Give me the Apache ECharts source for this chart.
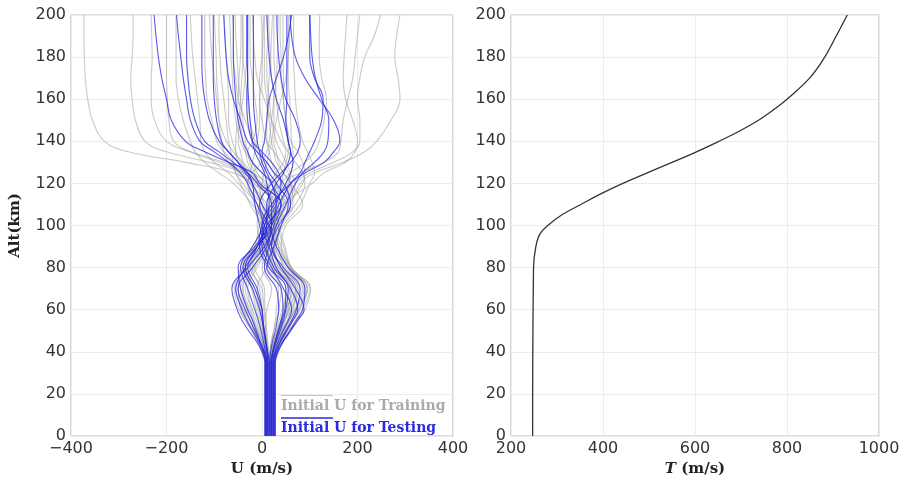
<!DOCTYPE html>
<html>
<head>
<meta charset="utf-8">
<script src="https://cdn.jsdelivr.net/npm/echarts@6/dist/echarts.min.js"></script>
<title></title>
<style>
  html, body { margin: 0; padding: 0; background: #fff; }
</style>
</head>
<body>
<div id="main" style="width: 903px;height:482px;"></div>
<script type="text/javascript">
// altitude levels (km) at which each U profile is sampled
var alts = [0, 35, 40, 45, 50, 55, 60, 70, 80, 90, 100, 110, 120, 125, 130, 135, 140, 150, 160, 170, 180, 190, 200];

// initial U profiles used for training (m/s)
var trainU = [
  [10, 10, 5, -5, -20, -35, -45, -50, -30, 5, 15, 30, -20, -60, -160, -280, -330, -355, -365, -370, -372, -373, -373],
  [12, 12, 8, 0, -10, -20, -28, -40, -20, 10, 20, 40, -10, -40, -110, -200, -245, -265, -272, -275, -272, -270, -270],
  [15, 15, 18, 25, 35, 45, 55, 70, 40, 20, 30, 50, 0, -30, -80, -150, -200, -225, -232, -232, -230, -231, -232],
  [20, 20, 25, 35, 50, 65, 80, 95, 55, 30, 40, 60, 80, 110, 170, 215, 240, 270, 289, 285, 278, 282, 289],
  [18, 18, 22, 30, 42, 55, 68, 85, 50, 25, 15, 45, 70, 100, 150, 190, 205, 205, 200, 205, 215, 235, 248],
  [8, 8, 4, -5, -15, -25, -32, -45, -25, 0, 30, 60, 50, 80, 130, 160, 165, 170, 180, 190, 195, 200, 205],
  [25, 25, 30, 40, 55, 70, 85, 100, 60, 40, 25, 10, 40, 60, 90, 110, 120, 130, 135, 125, 120, 120, 121],
  [22, 22, 26, 33, 40, 48, 55, 60, 30, 15, 5, -10, -50, -70, -100, -120, -128, -130, -135, -140, -145, -148, -150],
  [14, 14, 12, 10, 5, 0, -5, -10, 10, 30, 35, 20, 10, -20, -40, -60, -75, -90, -95, -100, -105, -108, -110],
  [10, 10, 8, 5, 3, 0, -3, -15, -35, -10, 15, 30, 20, 10, 0, -10, -20, -35, -50, -55, -60, -60, -62],
  [16, 16, 20, 26, 32, 40, 50, 65, 35, 20, 10, 0, -20, -30, -45, -55, -62, -70, -70, -72, -75, -77, -80],
  [28, 28, 33, 42, 52, 65, 78, 90, 60, 45, 30, 5, -10, -20, -30, -35, -40, -45, -40, -35, -32, -30, -30],
  [6, 6, 0, -10, -22, -35, -48, -58, -40, -15, -5, 20, 40, 45, 50, 55, 55, 50, 45, 40, 40, 38, 38],
  [20, 20, 24, 30, 38, 48, 60, 75, 45, 35, 25, 40, 55, 60, 65, 65, 62, 60, 58, 55, 55, 55, 56],
  [12, 12, 10, 8, 5, 2, 0, -5, -20, 0, 20, 50, 70, 60, 50, 40, 30, 20, 15, 10, 10, 12, 12],
  [24, 24, 28, 36, 46, 58, 70, 88, 55, 30, 10, -5, 0, 5, 10, 15, 20, 25, 25, 20, 18, 15, 14],
  [9, 9, 6, 0, -8, -16, -22, -30, -10, 15, 40, 70, 90, 85, 70, 55, 40, 20, 5, -10, -15, -18, -20],
  [18, 18, 20, 25, 32, 40, 45, 50, 20, 5, 0, 15, 30, 25, 10, -5, -15, -25, -30, -35, -40, -40, -42],
  [26, 26, 32, 45, 60, 75, 90, 102, 62, 48, 35, 20, 5, -10, -20, -30, -35, -40, -45, -50, -52, -55, -56],
  [7, 7, 2, -6, -15, -25, -38, -50, -45, -20, 5, 35, 60, 55, 40, 25, 10, 0, -5, -5, 0, 2, 4],
  [14, 14, 16, 20, 25, 30, 35, 40, 15, 0, -10, -5, 15, 30, 45, 50, 45, 35, 30, 28, 25, 25, 25],
  [11, 11, 9, 5, 0, -6, -12, -22, -40, -15, 10, -10, -40, -55, -60, -65, -70, -75, -80, -85, -88, -90, -90],
  [21, 21, 25, 32, 42, 52, 62, 78, 40, 25, 45, 80, 100, 110, 105, 95, 85, 75, 70, 68, 66, 66, 66],
  [17, 17, 19, 24, 30, 36, 42, 55, 25, 10, 5, -20, -60, -90, -120, -140, -150, -165, -175, -180, -180, -180, -180],
  [13, 13, 11, 9, 8, 8, 10, 20, 0, 20, 25, 10, -25, -50, -70, -80, -85, -90, -92, -95, -96, -98, -100],
  [27, 27, 31, 38, 47, 58, 70, 95, 62, 35, 20, 45, 105, 130, 175, 195, 200, 190, 175, 170, 172, 175, 178],
  [8, 8, 3, -7, -18, -30, -40, -55, -35, -5, 0, -15, -30, -25, -20, -15, -10, -5, -5, 0, 0, 0, -2],
  [19, 19, 23, 29, 36, 44, 52, 62, 28, 12, 30, 60, 40, 30, 20, 15, 10, 10, 12, 15, 18, 20, 22],
  [23, 23, 27, 35, 45, 56, 65, 72, 38, 25, 15, 0, -25, -40, -50, -55, -55, -52, -50, -48, -45, -44, -44],
  [15, 15, 14, 12, 10, 8, 6, 5, -15, 5, 28, 55, 85, 90, 85, 75, 60, 50, 45, 45, 44, 44, 44],
  [10, 10, 7, 2, -5, -12, -20, -35, -15, 15, 25, 35, -5, -35, -90, -150, -185, -195, -198, -200, -200, -200, -200],
  [11, 11, 9, 6, 2, -3, -8, -20, -38, -12, 18, 45, 25, 0, -20, -35, -45, -55, -60, -62, -65, -66, -68],
  [21, 21, 24, 30, 38, 47, 57, 70, 35, 10, 20, 25, -15, -30, -40, -45, -50, -48, -45, -42, -40, -40, -40],
  [16, 16, 17, 20, 24, 28, 30, 35, 10, -5, 15, 65, 60, 45, 30, 25, 20, 15, 10, 5, 5, 5, 5],
  [9, 9, 5, -2, -10, -18, -25, -40, -30, 0, 25, 0, -30, -20, 0, 10, 15, 20, 25, 30, 32, 33, 34],
  [25, 25, 30, 38, 50, 62, 75, 95, 58, 40, 50, 85, 60, 45, 35, 30, 25, 30, 40, 50, 55, 58, 60],
  [13, 13, 12, 10, 8, 6, 4, 0, -25, -10, 10, 25, -5, -15, -25, -30, -20, -10, -15, -20, -25, -25, -25],
  [19, 19, 22, 27, 33, 40, 48, 58, 22, 8, 0, -25, -45, -55, -60, -80, -95, -105, -115, -118, -120, -120, -120]
];

// initial U profiles used for testing (m/s)
var testU = [
  [6, 6, 0, -12, -28, -42, -52, -63, -30, 5, 25, 40, -5, -20, -70, -120, -160, -190, -200, -210, -217, -222, -226],
  [28, 28, 34, 45, 60, 75, 88, 70, 40, 20, 5, -10, -30, -45, -70, -100, -130, -150, -158, -165, -170, -175, -179],
  [10, 10, 5, -5, -15, -25, -35, -50, -20, 10, 20, 0, -20, -35, -50, -70, -90, -110, -120, -125, -126, -126, -126],
  [25, 25, 30, 40, 52, 65, 75, 60, 30, 15, 0, 20, 60, 90, 130, 150, 163, 150, 120, 90, 70, 62, 59],
  [15, 15, 12, 8, 4, 0, -5, -20, -40, -10, 20, 35, 60, 80, 90, 100, 110, 125, 128, 110, 100, 100, 100],
  [20, 20, 24, 30, 38, 45, 50, 55, 25, 5, -5, -15, -20, -30, -50, -70, -85, -95, -100, -102, -102, -102, -102],
  [8, 8, 4, -4, -12, -20, -30, -45, -50, -15, 15, 30, 20, 0, -20, -30, -40, -50, -55, -58, -60, -60, -60],
  [22, 22, 27, 34, 44, 55, 62, 45, 20, 0, 5, 30, 40, 35, 20, 0, -20, -30, -32, -30, -32, -32, -32],
  [12, 12, 10, 7, 4, 2, 0, -10, -30, -5, 10, 10, 30, 45, 55, 60, 55, 45, 30, 20, 15, 12, 10],
  [18, 18, 22, 28, 35, 42, 48, 50, 15, -5, 10, 40, 20, 10, 0, -5, -10, -15, -18, -18, -18, -18, -18],
  [26, 26, 32, 44, 58, 72, 85, 90, 55, 30, 15, -5, 20, 40, 60, 75, 80, 70, 50, 40, 35, 32, 31],
  [7, 7, 2, -8, -20, -32, -42, -55, -35, -10, 0, 25, 50, 60, 65, 60, 55, 50, 52, 52, 52, 52, 52],
  [16, 16, 18, 22, 28, 32, 35, 30, 5, 15, 35, 60, 45, 25, 10, -10, -30, -45, -60, -70, -75, -78, -80],
  [24, 24, 29, 38, 50, 62, 72, 80, 45, 20, 30, 50, 70, 85, 110, 130, 138, 140, 125, 112, 105, 102, 100],
  [10, 10, 7, 3, -2, -8, -15, -30, -45, -20, 5, 15, 10, 5, -5, -15, -20, -25, -28, -30, -30, -30, -30],
  [20, 20, 23, 28, 34, 40, 44, 40, 10, 25, 40, 55, 30, 15, 5, 0, 5, 10, 15, 30, 45, 55, 62],
  [13, 13, 11, 8, 5, 2, 0, -15, -35, -10, 20, 20, -10, -30, -60, -90, -120, -140, -150, -155, -158, -158, -158]
];

// background speed profile T (m/s) vs altitude
var tAlt = [0, 80, 90, 96, 100, 105, 110, 115, 120, 125, 130, 135, 140, 145, 150, 155, 160, 170, 180, 190, 200];
var tVal = [247, 249, 254, 263, 280, 310, 352, 395, 443, 496, 550, 603, 652, 698, 738, 771, 800, 849, 882, 907, 931];

var myChart = echarts.init(document.getElementById('main'));

var serif = 'DejaVu Serif';
var sans = 'DejaVu Sans';

function profile(u) {
  return u.map(function (v, i) { return [v, alts[i]]; });
}

var series = [];
trainU.forEach(function (u) {
  series.push({
    type: 'line', xAxisIndex: 0, yAxisIndex: 0,
    data: profile(u), smooth: 0.4, showSymbol: false, silent: true,
    lineStyle: { color: 'rgba(150,150,150,0.5)', width: 1.1 }
  });
});
testU.forEach(function (u) {
  series.push({
    type: 'line', xAxisIndex: 0, yAxisIndex: 0,
    data: profile(u), smooth: 0.4, showSymbol: false, silent: true,
    lineStyle: { color: 'rgba(35,35,225,0.75)', width: 1.1 }
  });
});
series.push({
  type: 'line', xAxisIndex: 1, yAxisIndex: 1,
  data: tVal.map(function (v, i) { return [v, tAlt[i]]; }),
  smooth: 0.4, showSymbol: false, silent: true,
  lineStyle: { color: '#333', width: 1.3 }
});

var axisLabel = {
  color: '#333', fontFamily: sans, fontSize: 16, margin: 5,
  formatter: function (v) { return String(v).replace('-', '\u2212'); }
};
var splitLine = { show: true, lineStyle: { color: '#ececec', width: 1 } };
var nameStyle = { fontFamily: serif, fontSize: 15, fontWeight: 'bold', color: '#222' };

var option = {
  animation: false,
  grid: [
    { left: 71, right: 450, top: 15, bottom: 40, show: true, borderColor: '#bdbdbd', borderWidth: 1.2 },
    { left: 511, right: 24, top: 15, bottom: 40, show: true, borderColor: '#bdbdbd', borderWidth: 1.2 }
  ],
  xAxis: [
    {
      gridIndex: 0, type: 'value', min: -400, max: 400, interval: 200,
      name: 'U (m/s)', nameLocation: 'middle', nameGap: 26, nameTextStyle: nameStyle,
      axisLine: { show: false }, axisTick: { show: false },
      axisLabel: axisLabel, splitLine: splitLine
    },
    {
      gridIndex: 1, type: 'value', min: 200, max: 1000, interval: 200,
      name: '{i|T} (m/s)', nameLocation: 'middle', nameGap: 26,
      nameTextStyle: {
        fontFamily: serif, fontSize: 15, fontWeight: 'bold', color: '#222',
        rich: { i: { fontFamily: serif, fontSize: 15, fontStyle: 'italic', color: '#222' } }
      },
      axisLine: { show: false }, axisTick: { show: false },
      axisLabel: axisLabel, splitLine: splitLine
    }
  ],
  yAxis: [
    {
      gridIndex: 0, type: 'value', min: 0, max: 200, interval: 20,
      name: 'Alt(km)', nameLocation: 'middle', nameGap: 48, nameRotate: 90, nameTextStyle: nameStyle,
      axisLine: { show: false }, axisTick: { show: false },
      axisLabel: axisLabel, splitLine: splitLine
    },
    {
      gridIndex: 1, type: 'value', min: 0, max: 200, interval: 20,
      axisLine: { show: false }, axisTick: { show: false },
      axisLabel: axisLabel, splitLine: splitLine
    }
  ],
  graphic: [
    { type: 'line', shape: { x1: 281, y1: 395, x2: 333, y2: 395 }, style: { stroke: '#b0b0b0', lineWidth: 1.5 } },
    { type: 'text', left: 281, top: 399, style: { text: 'Initial U for Training', fill: '#aaaaaa', font: 'bold 14px "DejaVu Serif"' } },
    { type: 'line', shape: { x1: 281, y1: 418, x2: 333, y2: 418 }, style: { stroke: '#2a2ae6', lineWidth: 1.5 } },
    { type: 'text', left: 281, top: 421, style: { text: 'Initial U for Testing', fill: '#2a2ae6', font: 'bold 14px "DejaVu Serif"' } }
  ],
  series: series
};

myChart.setOption(option);
</script>
</body>
</html>
